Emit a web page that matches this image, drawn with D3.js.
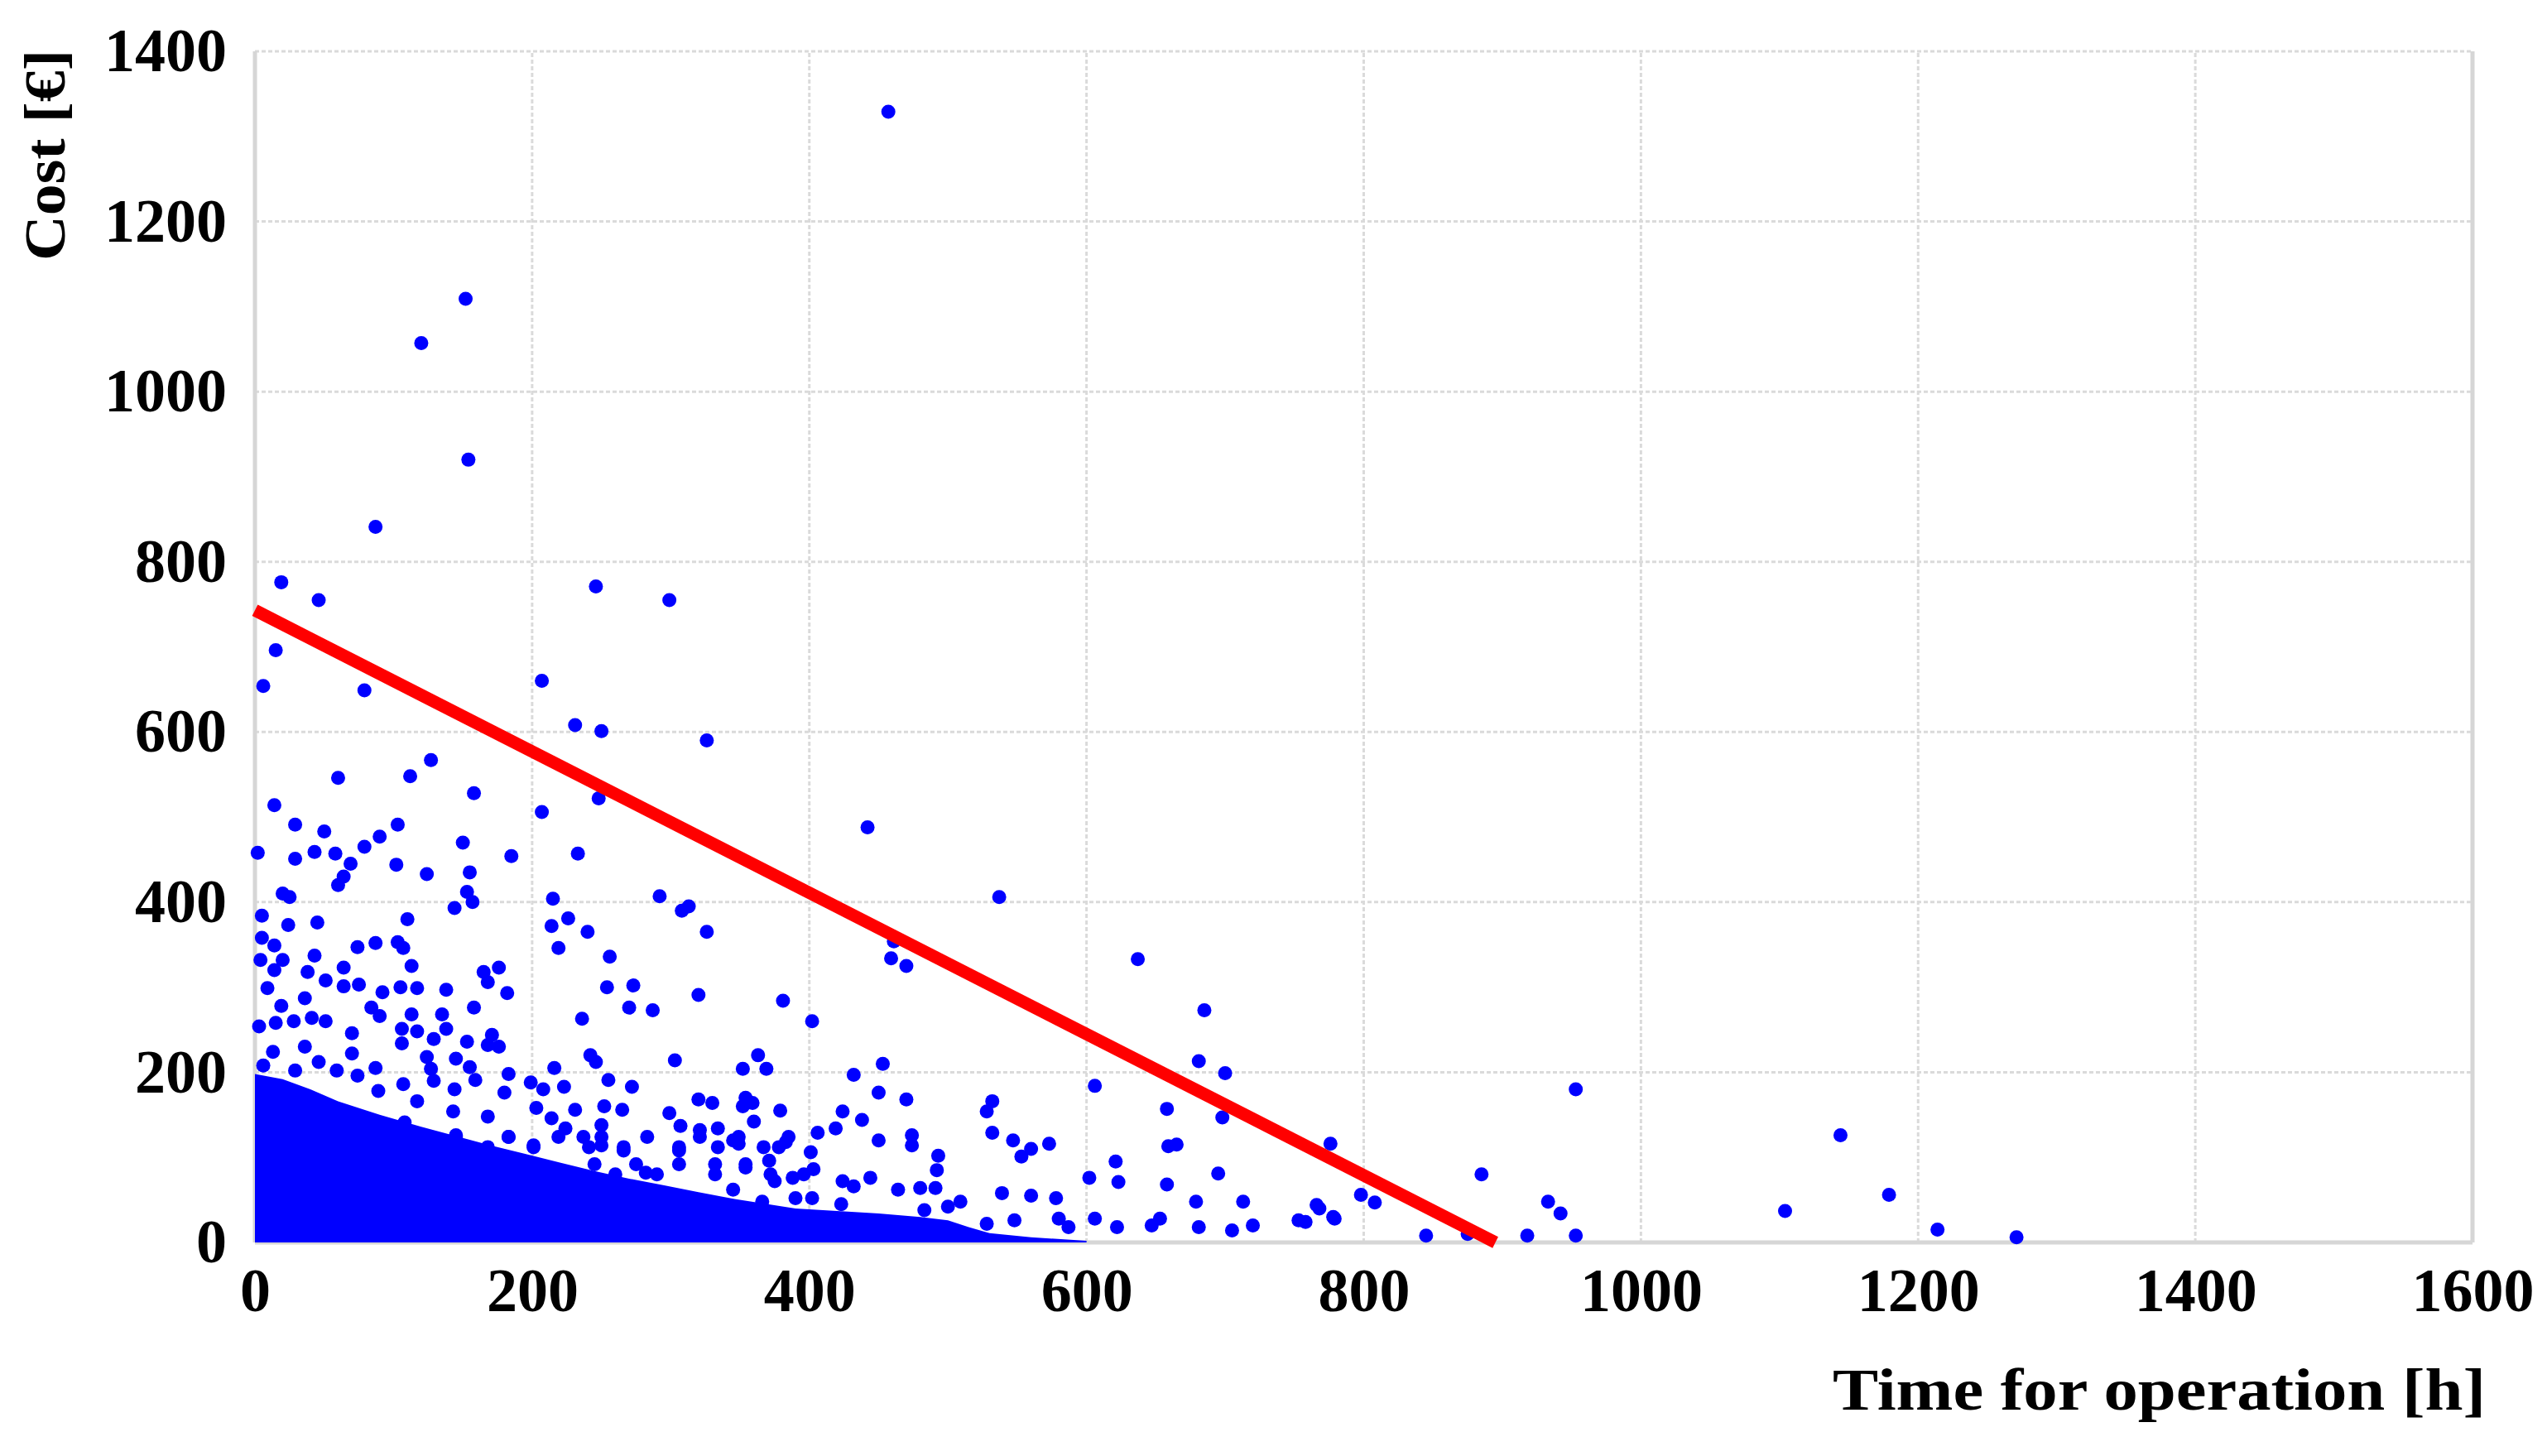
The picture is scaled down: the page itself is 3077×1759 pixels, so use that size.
<!DOCTYPE html>
<html><head><meta charset="utf-8">
<script src="https://cdn.jsdelivr.net/npm/d3@7"></script>
<style>body{margin:0;background:#fff}svg{display:block}</style>
</head><body>
<svg id="chart" width="3077" height="1759"></svg>
<script>
// ---- tick labels ----
const xTicks = [0, 200, 400, 600, 800, 1000, 1200, 1400, 1600];
const yTicks = [0, 200, 400, 600, 800, 1000, 1200, 1400];
const xTitle = "Time for operation [h]";
const yTitle = "Cost [€]";

// ---- regression line (two end points) ----
const trendX = [0, 895];
const trendY = [743, 0];

// ---- saturated core of the scatter (upper edge) ----
const coreX = [0, 20, 40, 60, 90, 120, 145, 170, 195, 220, 245, 270, 296, 320, 346, 370, 390, 420, 450, 480, 500, 515, 530, 560, 600];
const coreY = [198, 192, 180, 166, 150, 136, 125, 114, 104, 94, 84, 75, 67, 59, 51, 45, 40, 37, 34, 30, 26, 18, 11, 6, 2];

// ---- individual scatter points (time [h], cost [€]) ----
const pointsX = [
457,152,120,154,87,19,46,246,299,15,6,79,207,
231,250,326,127,112,60,158,14,248,207,29,50,103,90,79,43,29,58,69,150,185,233,102,124,155,64,60,20,25,153,157,144,215,292,308,313,326,
5,24,45,110,214,226,240,219,5,14,74,87,103,107,256,4,20,43,113,64,165,176,168,14,38,51,64,75,92,105,117,138,182,254,273,320,
9,36,19,84,90,113,135,158,270,287,236,3,15,28,41,51,70,106,117,138,129,106,153,168,171,176,13,36,70,124,145,242,303,363,
6,29,46,59,87,127,155,216,246,352,369,74,107,129,159,183,199,208,223,255,272,89,144,180,320,330,354,359,117,203,231,252,265,299,352,
143,168,214,307,360,108,321,334,345,349,224,237,250,266,306,332,354,371,375,282,345,366,201,183,145,250,2,
442,537,461,459,470,637,381,402,685,681,700,453,432,606,450,470,532,528,379,424,438,658,698,406,419,450,474,474,532,547,560,553,573,
383,378,401,659,665,493,621,403,388,396,492,424,432,444,695,602,623,658,464,480,491,539,560,578,679,713,423,509,402,390,
606,653,647,720,622,580,548,528,681,753,705,587,500,483,
953,1144,885,776,798,808,933,942,1104,1179,1214,1271,845,875,918,953,766,768,758,778,779,
145,168,183,201,219,241,250,266,283,306,321,334,349,367,385,
245,260,275,290,306,332,354,372
];
const pointsY = [
1329,1109,1057,920,841,776,755,771,755,696,654,649,660,
608,601,590,567,548,546,528,514,522,506,491,483,491,477,465,459,451,457,445,470,454,457,444,433,435,430,420,410,406,412,400,393,404,407,390,395,365,
384,373,376,380,372,381,365,346,358,349,347,352,353,346,336,332,332,337,325,323,318,323,306,320,318,308,301,303,294,300,299,297,293,300,302,291,
299,287,278,276,266,268,268,276,276,273,263,254,258,260,264,260,246,251,248,251,239,234,236,232,244,230,224,230,222,218,216,220,214,220,
208,202,212,202,205,204,206,205,212,204,204,196,186,190,191,198,188,180,183,191,183,178,180,176,168,164,170,164,166,158,156,160,156,152,160,
154,148,146,137,142,141,132,134,120,116,134,124,138,108,108,92,88,96,72,82,62,48,114,124,126,114,458,
488,406,354,334,325,333,284,260,273,213,199,210,197,184,176,168,166,154,155,154,144,157,147,129,134,120,126,114,129,120,110,101,116,
118,112,106,113,115,102,95,86,76,80,85,72,66,76,81,76,71,68,62,64,64,58,55,52,48,48,45,48,52,52,
28,28,20,20,18,28,26,22,18,26,14,18,42,38,
180,126,80,116,56,47,48,34,37,56,15,6,8,10,8,8,44,40,24,30,28,
124,112,124,112,124,112,124,112,124,112,124,112,124,112,124,
92,80,92,80,92,80,92,80
];

// ---- layout ----
const W = 3077, H = 1759;
const m = {left: 308, right: 90, top: 62, bottom: 258};
const svg = d3.select("#chart");
const x = d3.scaleLinear().domain([0, 1600]).range([m.left, W - m.right]);
const y = d3.scaleLinear().domain([0, 1400]).range([H - m.bottom, m.top]);

const grid = svg.append("g");
grid.selectAll("line.v").data(xTicks.filter(d => d > 0 && d < 1600)).join("line")
  .attr("x1", d => x(d)).attr("x2", d => x(d)).attr("y1", y(0)).attr("y2", y(1400))
  .attr("stroke", "#dadada").attr("stroke-width", 3).attr("stroke-dasharray", "5,3");
grid.selectAll("line.h").data(yTicks.filter(d => d > 0)).join("line")
  .attr("x1", x(0)).attr("x2", x(1600)).attr("y1", d => y(d)).attr("y2", d => y(d))
  .attr("stroke", "#dadada").attr("stroke-width", 3).attr("stroke-dasharray", "5,3");
grid.append("line").attr("x1", x(0)).attr("x2", x(0)).attr("y1", y(0)).attr("y2", y(1400))
  .attr("stroke", "#d6d6d6").attr("stroke-width", 5);
grid.append("line").attr("x1", x(0)).attr("x2", x(1600)).attr("y1", y(0)).attr("y2", y(0))
  .attr("stroke", "#d6d6d6").attr("stroke-width", 5);
grid.append("line").attr("x1", x(1600)).attr("x2", x(1600)).attr("y1", y(0)).attr("y2", y(1400))
  .attr("stroke", "#d6d6d6").attr("stroke-width", 5);

// core area
const core = coreX.map((d, i) => ({x: d, y: coreY[i]}));
svg.append("path").datum(core)
  .attr("d", d3.area().x(d => x(d.x)).y0(y(0)).y1(d => y(d.y)).curve(d3.curveLinear))
  .attr("fill", "#0000ff");

// points
const pts = pointsX.map((d, i) => ({x: d, y: pointsY[i]}));
svg.append("g").selectAll("circle").data(pts).join("circle")
  .attr("cx", d => x(d.x)).attr("cy", d => y(d.y)).attr("r", 8.5)
  .attr("fill", "#0000ff");

// trend line
const trend = trendX.map((d, i) => ({x: d, y: trendY[i]}));
svg.append("path").datum(trend)
  .attr("d", d3.line().x(d => x(d.x)).y(d => y(d.y)))
  .attr("stroke", "#ff0000").attr("stroke-width", 15).attr("fill", "none");

// axes labels
const font = "'Liberation Serif', 'Times New Roman', serif";
const xa = svg.append("g").attr("transform", `translate(0,${y(0)})`)
  .call(d3.axisBottom(x).tickValues(xTicks).tickSize(0).tickPadding(30).tickFormat(d3.format("d")));
const ya = svg.append("g").attr("transform", `translate(${x(0)},0)`)
  .call(d3.axisLeft(y).tickValues(yTicks).tickSize(0).tickPadding(34).tickFormat(d3.format("d")));
[xa, ya].forEach(g => {
  g.select(".domain").remove();
  g.selectAll("text").attr("font-family", font).attr("font-weight", "bold")
    .attr("font-size", 74).attr("fill", "#000");
});

svg.append("text").text(xTitle)
  .attr("x", 3003).attr("y", 1703).attr("text-anchor", "end")
  .attr("font-family", font).attr("font-weight", "bold").attr("font-size", 72)
  .attr("textLength", 789).attr("lengthAdjust", "spacingAndGlyphs");
svg.append("text").text(yTitle)
  .attr("transform", "translate(78,60) rotate(-90)").attr("text-anchor", "end")
  .attr("font-family", font).attr("font-weight", "bold").attr("font-size", 70)
  .attr("textLength", 255).attr("lengthAdjust", "spacingAndGlyphs");
</script>
</body></html>
